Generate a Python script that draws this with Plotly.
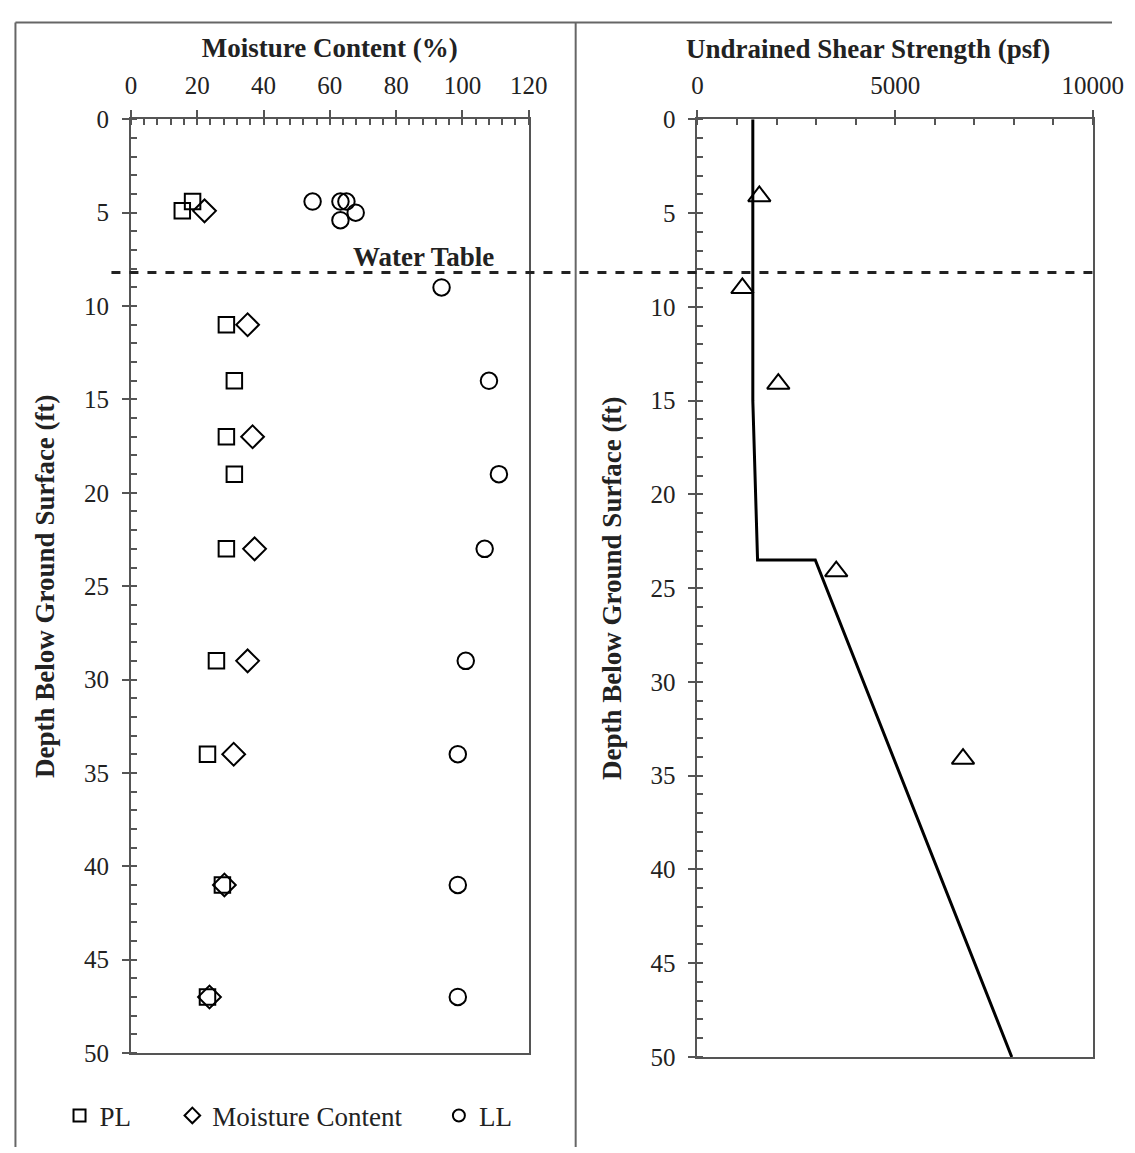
import plotly.graph_objects as go

# moisture content panel (depth in ft, values in %)
pl_depth = [4.4, 4.9, 11, 14, 17, 19, 23, 29, 34, 41, 47]
pl_value = [18.6, 15.5, 28.8, 31.2, 28.8, 31.2, 28.8, 25.8, 23.1, 27.6, 23.1]

mc_depth = [4.9, 11, 17, 23, 29, 34, 41, 47]
mc_value = [22.2, 35.2, 36.7, 37.3, 35.2, 31.0, 28.2, 23.7]

ll_depth = [4.4, 4.4, 4.4, 5.0, 5.4, 9.0, 14, 19, 23, 29, 34, 41, 47]
ll_value = [54.8, 63.2, 65.0, 67.8, 63.2, 93.7, 108, 111, 106.7, 101, 98.6, 98.6, 98.6]

# undrained shear strength panel (psf)
su_depth = [4.1, 9.0, 14.1, 24.1, 34.1]
su_value = [1565, 1136, 2045, 3510, 6717]

trend_depth = [0, 15, 23.5, 23.5, 50]
trend_value = [1400, 1400, 1520, 2980, 7950]

water_table = 8.2

W, H = 1135, 1153
# how figure pixels land in the snapshot (measured from an earlier run)
SX, OX = 0.969, 12.4
SY, OY = 0.978, 19.5
FONT = "Liberation Serif"
AX = "#555555"
TXT = "#222222"


def px(x):
    f = (x - OX) / SX
    return min(max(f / W, 0.0), 1.0)


def py(y):
    f = (y - OY) / SY
    return min(max(1 - f / H, 0.0), 1.0)


fig = go.Figure()

fig.add_trace(go.Scatter(
    x=pl_value, y=pl_depth, mode="markers", name="PL",
    marker=dict(symbol="square-open", size=15.5, color="black", line=dict(width=2)),
    xaxis="x", yaxis="y", legend="legend"))
fig.add_trace(go.Scatter(
    x=mc_value, y=mc_depth, mode="markers", name="Moisture Content",
    marker=dict(symbol="diamond-open", size=17.5, color="black", line=dict(width=2)),
    xaxis="x", yaxis="y", legend="legend2"))
fig.add_trace(go.Scatter(
    x=ll_value, y=ll_depth, mode="markers", name="LL",
    marker=dict(symbol="circle-open", size=16.5, color="black", line=dict(width=2)),
    xaxis="x", yaxis="y", legend="legend3"))

fig.add_trace(go.Scatter(
    x=trend_value, y=trend_depth, mode="lines", showlegend=False,
    line=dict(color="black", width=3), xaxis="x2", yaxis="y2"))
fig.add_trace(go.Scatter(
    x=su_value, y=su_depth, mode="markers", showlegend=False,
    marker=dict(symbol="triangle-up-open", size=19.5, color="black", line=dict(width=2)),
    xaxis="x2", yaxis="y2"))

tick_font = dict(family=FONT, size=25, color=TXT)
title_font = dict(family=FONT, size=27, color=TXT)
ytitle = "<b>Depth Below Ground Surface (ft)</b>"

common_x = dict(side="top", ticks="outside", ticklen=7, tickwidth=2, tickcolor=AX,
                showline=True, linecolor=AX, linewidth=2, mirror=True,
                showgrid=False, zeroline=False, tickfont=tick_font, ticklabelstandoff=6,
                ticklabeloverflow="allow")
common_y = dict(autorange=False, ticks="outside", ticklen=7, tickwidth=2, tickcolor=AX,
                showline=True, linecolor=AX, linewidth=2, mirror=True,
                showgrid=False, zeroline=False, tickfont=tick_font, ticklabelstandoff=8,
                dtick=5, tick0=0, range=[50, 0],
                minor=dict(dtick=1, ticks="inside", ticklen=6, tickwidth=2, tickcolor=AX),
                title=dict(text=ytitle, font=title_font, standoff=21))

legend_style = dict(yanchor="middle", xanchor="left", itemsizing="constant",
                    font=dict(family=FONT, size=27, color=TXT), bgcolor="rgba(0,0,0,0)")

fig.update_layout(
    width=W, height=H,
    margin=dict(l=0, r=0, t=0, b=0),
    paper_bgcolor="white", plot_bgcolor="white",
    font=dict(family=FONT, color=TXT),
    xaxis=dict(common_x, domain=[px(129.5), px(528)], range=[0, 120], dtick=20, anchor="y",
               minor=dict(dtick=4, ticks="inside", ticklen=6, tickwidth=2, tickcolor=AX),
               title=dict(text="<b>Moisture Content (%)</b>", font=title_font, standoff=7)),
    yaxis=dict(common_y, domain=[py(1053), py(118)], anchor="x"),
    xaxis2=dict(common_x, domain=[px(697), px(1093)], range=[0, 10000], dtick=5000,
                tickformat="d", anchor="y2",
                minor=dict(dtick=1000, ticks="inside", ticklen=6, tickwidth=2, tickcolor=AX)),
    yaxis2=dict(common_y, domain=[py(1057), py(118)], anchor="x2"),
    legend=dict(legend_style, x=px(58), y=py(1116)),
    legend2=dict(legend_style, x=px(171), y=py(1116)),
    legend3=dict(legend_style, x=px(438), y=py(1116)),
)

# the shear strength title sits left of the axis centre in the original
fig.add_annotation(xref="paper", yref="paper", x=px(868), y=py(48),
                   text="<b>Undrained Shear Strength (psf)</b>", showarrow=False,
                   xanchor="center", yanchor="middle", font=title_font)

# water table dashed line across both panels
fig.add_shape(type="line", xref="paper", yref="y", x0=px(110), x1=px(1095),
              y0=water_table, y1=water_table, line=dict(color=TXT, width=3, dash="dash"))
fig.add_annotation(xref="x", yref="y", x=110, y=water_table, text="<b>Water Table</b>",
                   showarrow=False, xanchor="right", yanchor="bottom", yshift=-2,
                   font=dict(family=FONT, size=27, color=TXT))

# outer frame and panel divider
frame = dict(color="#666", width=2)
top = 1 - 1.5 / H
left = 1.5 / W
fig.add_shape(type="line", xref="paper", yref="paper", x0=left, x1=1, y0=top, y1=top, line=frame)
fig.add_shape(type="line", xref="paper", yref="paper", x0=left, x1=left, y0=0, y1=top, line=frame)
fig.add_shape(type="line", xref="paper", yref="paper", x0=px(575), x1=px(575), y0=0, y1=top, line=frame)

fig.write_html("out.html")
